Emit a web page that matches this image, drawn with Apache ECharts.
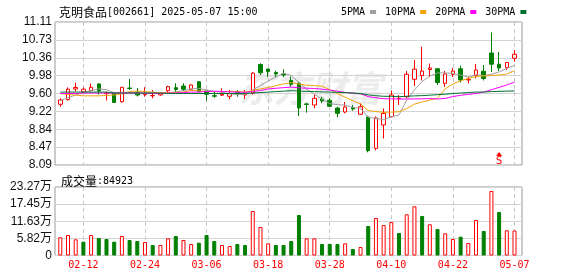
<!DOCTYPE html>
<html><head><meta charset="utf-8">
<script src="https://cdn.jsdelivr.net/npm/echarts@6/dist/echarts.min.js"></script>
<style>html,body{margin:0;padding:0;background:#fff}#c{width:578px;height:276px}</style>
</head><body><div id="c"></div>
<script>
const stockName = '克明食品', stockCode = '002661', stamp = '2025-05-07 15:00';
const lastVolume = 84923;
const dates = ['02-07','02-10','02-11','02-12','02-13','02-14','02-17','02-18','02-19','02-20','02-21','02-24','02-25','02-26','02-27','02-28','03-03','03-04','03-05','03-06','03-07','03-10','03-11','03-12','03-13','03-14','03-17','03-18','03-19','03-20','03-21','03-24','03-25','03-26','03-27','03-28','03-31','04-01','04-02','04-03','04-07','04-08','04-09','04-10','04-11','04-14','04-15','04-16','04-17','04-18','04-21','04-22','04-23','04-24','04-25','04-28','04-29','04-30','05-06','05-07'];
const opens = [9.372,9.47,9.695,9.636,9.663,9.801,9.600,9.611,9.427,9.716,
  9.627,9.575,9.551,9.57,9.659,9.723,9.758,9.689,9.849,9.653,
  9.554,9.565,9.541,9.621,9.568,9.611,10.212,10.117,10.043,10.012,
  9.875,9.822,9.38,9.357,9.484,9.456,9.294,9.209,9.305,9.161,
  9.104,8.443,8.935,9.11,9.49,9.532,9.900,9.98,10.107,10.122,
  9.815,10.006,10.122,9.885,9.98,10.071,10.455,10.219,10.149,10.343];
const closes = [9.463,9.69,9.727,9.691,9.731,9.653,9.606,9.41,9.731,9.706,
  9.568,9.585,9.558,9.60,9.744,9.685,9.69,9.78,9.638,9.583,
  9.543,9.585,9.60,9.59,9.584,10.03,10.04,10.065,10.012,9.991,
  9.794,9.294,9.37,9.499,9.442,9.33,9.182,9.315,9.273,9.321,
  8.392,9.083,9.178,9.568,9.50,10.006,10.113,10.075,10.139,9.832,
  10.012,10.075,9.885,9.90,10.096,9.917,10.219,10.139,10.255,10.428];
const lows = [9.321,9.45,9.638,9.604,9.642,9.579,9.452,9.40,9.406,9.674,
  9.537,9.532,9.499,9.55,9.632,9.625,9.653,9.674,9.625,9.448,
  9.511,9.547,9.478,9.532,9.484,9.575,9.991,9.948,9.948,9.948,
  9.744,9.125,9.195,9.288,9.393,9.315,9.097,9.182,9.237,9.146,
  8.358,8.401,8.650,9.097,9.357,9.505,9.758,9.875,9.948,9.78,
  9.737,9.948,9.832,9.816,9.921,9.875,10.054,10.075,10.096,10.272];
const highs = [9.499,9.73,9.828,9.731,9.811,9.811,9.642,9.632,9.735,9.906,
  9.710,9.731,9.674,9.63,9.765,9.815,9.815,9.80,9.864,9.663,
  9.638,9.71,9.674,9.674,9.674,10.05,10.238,10.125,10.081,10.11,
  9.959,9.849,9.406,9.579,9.532,9.499,9.321,9.42,9.357,9.389,
  9.131,9.114,9.283,9.663,9.568,10.075,10.307,10.588,10.234,10.139,
  10.075,10.139,10.185,9.955,10.223,10.202,10.888,10.476,10.265,10.519];
const volumes = [61800,69600,55000,46900,69600,59400,56000,46900,66200,52700,
  49300,45900,35700,35700,58400,66200,52700,39100,43500,69600,
  49300,35700,32300,39100,35700,151200,96800,41400,35700,35700,
  49300,137600,58400,58400,39100,39100,39100,41400,22100,28900,
  100200,127400,103600,113800,76400,140000,167100,134200,106000,90000,
  75400,56000,63900,42500,120600,83200,219100,147800,85600,84923];
const ma5 = [9.45,9.51,9.57,9.62,9.66,9.698,9.682,9.618,9.626,9.622,
  9.606,9.602,9.632,9.606,9.612,9.636,9.656,9.70,9.708,9.676,
  9.646,9.626,9.59,9.58,9.58,9.678,9.768,9.862,9.946,10.028,
  9.98,9.83,9.69,9.588,9.478,9.386,9.364,9.354,9.308,9.284,
  9.096,9.076,9.048,9.108,9.144,9.468,9.674,9.854,9.968,10.034,
  10.034,10.028,9.99,9.942,9.996,9.978,10.006,10.056,10.128,10.194];
const ma10 = [9.60,9.58,9.565,9.55,9.55,9.55,9.56,9.57,9.59,9.641,
  9.652,9.642,9.625,9.616,9.617,9.621,9.629,9.666,9.657,9.644,
  9.641,9.641,9.645,9.644,9.628,9.662,9.697,9.726,9.763,9.804,
  9.829,9.799,9.776,9.767,9.753,9.683,9.597,9.522,9.448,9.381,
  9.241,9.22,9.201,9.208,9.214,9.282,9.375,9.42,9.46,9.50,
  9.70,9.80,9.87,9.92,9.96,9.97,9.98,9.99,10.01,10.08];
const ma20 = [9.60,9.60,9.60,9.61,9.61,9.61,9.61,9.61,9.61,9.61,
  9.61,9.61,9.60,9.60,9.61,9.61,9.62,9.63,9.63,9.643,
  9.647,9.642,9.635,9.63,9.623,9.642,9.663,9.696,9.71,9.724,
  9.735,9.72,9.711,9.706,9.691,9.673,9.647,9.624,9.606,9.593,
  9.535,9.51,9.489,9.488,9.484,9.483,9.486,9.487,9.493,9.485,
  9.496,9.536,9.562,9.582,9.60,9.63,9.68,9.73,9.78,9.84];
const ma30 = [9.63,9.63,9.63,9.63,9.63,9.63,9.63,9.61,9.61,9.61,
  9.61,9.61,9.61,9.61,9.60,9.60,9.60,9.60,9.60,9.60,
  9.60,9.60,9.60,9.60,9.60,9.61,9.62,9.63,9.64,9.65,
  9.66,9.65,9.645,9.64,9.635,9.63,9.625,9.62,9.61,9.60,
  9.57,9.553,9.541,9.54,9.532,9.542,9.55,9.555,9.565,9.575,
  9.585,9.60,9.61,9.62,9.63,9.63,9.64,9.645,9.65,9.655];
const maNames = ['5PMA','10PMA','20PMA','30PMA'];
const priceTicks = ['8.09','8.47','8.84','9.22','9.60','9.98','10.36','10.73','11.11'];
const volTicks = ['0','5.82万','11.63万','17.45万','23.27万'];
const dateLabels = ['02-12','02-24','03-06','03-18','03-28','04-10','04-22','05-07'];
const priceMin = 8.09, priceMax = 11.11, volMax = 232700;
const signal = {date: '04-30', text: 'S', price: 8.32};

const MONO = 'DejaVu Sans Mono';
const CJK = 'Noto Sans CJK SC';
const SANS = 'Liberation Sans';
const RED = '#ff0000', GREEN = '#008000';
const maColors = ['#a0a0a0', '#f0a30a', '#ff00ff', '#007030'];

const candleData = dates.map((d, i) => [opens[i], closes[i], lows[i], highs[i]]);
const volData = volumes.map((v, i) => {
  const up = i === 0 ? closes[i] >= opens[i] : closes[i] >= closes[i - 1];
  return {value: v, itemStyle: up ? {color: '#ffffff', borderColor: RED, borderWidth: 1}
                                   : {color: GREEN, borderColor: GREEN, borderWidth: 1}};
});
const showDate = (idx, val) => dateLabels.indexOf(val !== undefined ? val : dates[idx]) >= 0;
const vSplit = {show: true, interval: showDate, alignWithLabel: true, lineStyle: {color: '#c8c8c8', type: [4, 3], width: 1}};

const chart = echarts.init(document.getElementById('c'), null, {renderer: 'canvas'});
const maSeries = [ma5, ma10, ma20, ma30].map((arr, k) => ({
  name: maNames[k], type: 'line', xAxisIndex: 1, yAxisIndex: 1, data: arr,
  symbol: 'none', silent: true, lineStyle: {color: maColors[k], width: 1}, itemStyle: {color: maColors[k]}
}));
const richTitle = {a: {fontFamily: CJK, fontSize: 12, fontWeight: 'normal', color: '#000'},
                   b: {fontFamily: MONO, fontSize: 10, fontWeight: 'normal', color: '#000'}};

chart.setOption({
  animation: false,
  backgroundColor: '#ffffff',
  textStyle: {fontFamily: SANS},
  title: [
    {left: 54, top: 1, text: '{a|' + stockName + '}{b|[' + stockCode + '] ' + stamp + '}',
     textStyle: {fontWeight: 'normal', rich: richTitle}},
    {left: 56, top: 170, text: '{a|成交量}{b|:' + lastVolume + '}',
     textStyle: {fontWeight: 'normal', rich: richTitle}}
  ],
  legend: {data: maNames, left: 336, top: 2, icon: 'rect', itemWidth: 6, itemHeight: 4, itemGap: 9, align: 'right',
    selectedMode: false, textStyle: {fontFamily: MONO, fontSize: 10, color: '#000'}},
  graphic: [{type: 'text', left: 238, top: 70, z: 0, silent: true,
    style: {text: '东方财富', font: 'italic bold 36px "Noto Sans CJK SC"', fill: 'rgba(200,200,200,0.35)'}}],
  grid: [
    {left: 55, top: 22, width: 467, height: 143, show: true, borderColor: '#999', borderWidth: 1, backgroundColor: 'transparent', outerBoundsMode: 'none'},
    {left: 56.45, top: 22, width: 461.9, height: 143, outerBoundsMode: 'none'},
    {left: 55, top: 187, width: 467, height: 68.5, show: true, borderColor: '#999', borderWidth: 1, backgroundColor: 'transparent', outerBoundsMode: 'none'},
    {left: 56.45, top: 187, width: 461.9, height: 68.5, outerBoundsMode: 'none'}
  ],
  xAxis: [
    {type: 'value', gridIndex: 0, min: 0, max: 1, show: false},
    {type: 'category', gridIndex: 1, data: dates, boundaryGap: true, axisLine: {show: false}, axisTick: {show: false},
     axisLabel: {show: false, interval: showDate}, splitLine: vSplit},
    {type: 'value', gridIndex: 2, min: 0, max: 1, show: false},
    {type: 'category', gridIndex: 3, data: dates, boundaryGap: true, axisLine: {show: false}, axisTick: {show: false},
     axisLabel: {show: true, interval: showDate, color: RED, fontFamily: MONO, fontSize: 10, margin: 5}, splitLine: vSplit}
  ],
  yAxis: [
    {type: 'value', gridIndex: 0, min: 0, max: priceTicks.length - 1, interval: 1, axisLine: {show: false}, axisTick: {show: false},
     axisLabel: {formatter: v => priceTicks[Math.round(v)], fontFamily: SANS, fontSize: 12, color: '#111', margin: 3, showMinLabel: true, showMaxLabel: true},
     splitLine: {show: true, lineStyle: {color: '#d4d4d4', width: 1}}},
    {type: 'value', gridIndex: 1, min: priceMin, max: priceMax, show: false, splitLine: {show: false}},
    {type: 'value', gridIndex: 2, min: 0, max: volTicks.length - 1, interval: 1, axisLine: {show: false}, axisTick: {show: false},
     axisLabel: {formatter: v => volTicks[Math.round(v)], fontFamily: SANS + ', ' + CJK, fontSize: 12, color: '#111', margin: 3, showMinLabel: true, showMaxLabel: true},
     splitLine: {show: true, lineStyle: {color: '#d4d4d4', width: 1}}},
    {type: 'value', gridIndex: 3, min: 0, max: volMax, show: false, splitLine: {show: false}}
  ],
  series: [
    {name: 'K', type: 'candlestick', xAxisIndex: 1, yAxisIndex: 1, data: candleData, barWidth: 4, silent: true,
     itemStyle: {color: '#ffffff', color0: GREEN, borderColor: RED, borderColor0: GREEN, borderWidth: 1},
     markPoint: {silent: true, symbol: 'triangle', symbolSize: [6, 4],
       data: [{coord: [signal.date, signal.price], itemStyle: {color: RED},
         label: {show: true, position: 'bottom', distance: 0, formatter: signal.text, color: RED, fontFamily: MONO, fontSize: 11}}]}}
  ].concat(maSeries).concat([
    {name: 'VOL', type: 'bar', xAxisIndex: 3, yAxisIndex: 3, data: volData, barWidth: 4, silent: true}
  ])
});
</script></body></html>
